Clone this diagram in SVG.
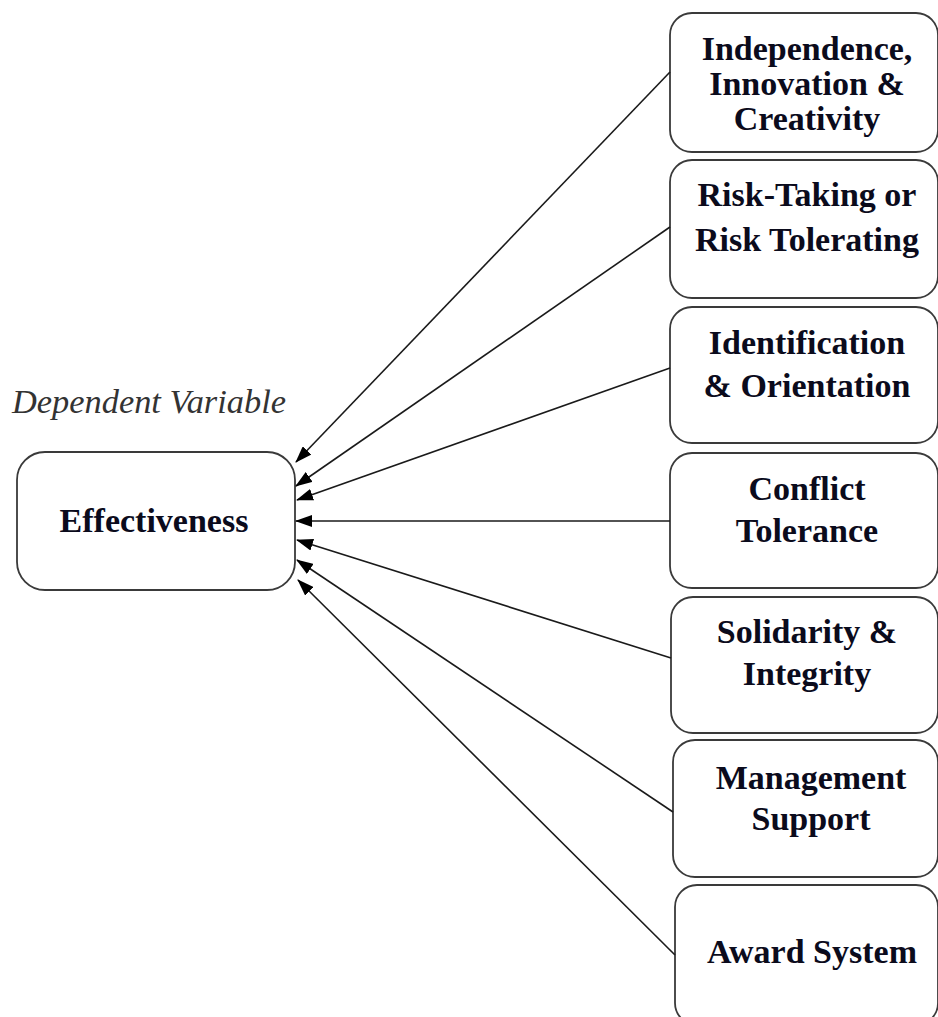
<svg xmlns="http://www.w3.org/2000/svg" width="938" height="1017" viewBox="0 0 938 1017">
<style>
.box{fill:#fff;stroke:#3a3a3a;stroke-width:1.8}
.lbl{font-family:"Liberation Serif","Times New Roman",serif;font-weight:bold;font-size:34px;fill:#0b0b1c;text-anchor:middle}
.dv{font-family:"Liberation Serif","Times New Roman",serif;font-style:italic;font-size:34px;fill:#333}
.con{stroke:#1a1a1a;stroke-width:1.6;fill:none;marker-end:url(#ah)}
</style>
<defs>
<marker id="ah" markerWidth="17" markerHeight="12" refX="16" refY="6" orient="auto" markerUnits="userSpaceOnUse">
<path d="M0,0 L17,6 L0,12 Z" fill="#000"/>
</marker>
</defs>
<rect width="938" height="1017" fill="#fff"/>
<text class="dv" x="12" y="413" textLength="274" lengthAdjust="spacingAndGlyphs">Dependent Variable</text>
<g id="effectiveness">
<rect class="box" x="17" y="452" width="278" height="138" rx="28"/>
<text class="lbl" x="154" y="532">Effectiveness</text>
</g>
<g id="independence">
<rect class="box" x="670" y="13" width="268" height="139" rx="22"/>
<text class="lbl" x="807" y="60">Independence,</text>
<text class="lbl" x="807" y="95">Innovation &amp;</text>
<text class="lbl" x="807" y="130">Creativity</text>
</g>
<g id="risk">
<rect class="box" x="670" y="160" width="268" height="138" rx="22"/>
<text class="lbl" x="807" y="206">Risk-Taking or</text>
<text class="lbl" x="807" y="251">Risk Tolerating</text>
</g>
<g id="identification">
<rect class="box" x="670" y="307" width="268" height="136" rx="22"/>
<text class="lbl" x="807" y="354">Identification</text>
<text class="lbl" x="807" y="397">&amp; Orientation</text>
</g>
<g id="conflict">
<rect class="box" x="670" y="453" width="268" height="135" rx="22"/>
<text class="lbl" x="807" y="500">Conflict</text>
<text class="lbl" x="807" y="542">Tolerance</text>
</g>
<g id="solidarity">
<rect class="box" x="671" y="597" width="267" height="136" rx="22"/>
<text class="lbl" x="807" y="643">Solidarity &amp;</text>
<text class="lbl" x="807" y="685">Integrity</text>
</g>
<g id="management">
<rect class="box" x="673" y="740" width="265" height="137" rx="22"/>
<text class="lbl" x="811" y="789">Management</text>
<text class="lbl" x="811" y="830">Support</text>
</g>
<g id="award">
<rect class="box" x="675" y="885" width="263" height="140" rx="22"/>
<text class="lbl" x="812" y="963">Award System</text>
</g>
<g id="connectors">
<line class="con" x1="670" y1="72" x2="296" y2="462"/>
<line class="con" x1="670" y1="227" x2="296" y2="486"/>
<line class="con" x1="670" y1="368" x2="297" y2="500"/>
<line class="con" x1="670" y1="521" x2="296" y2="521"/>
<line class="con" x1="671" y1="658" x2="297" y2="540"/>
<line class="con" x1="673" y1="812" x2="297" y2="560"/>
<line class="con" x1="675" y1="955" x2="298" y2="580"/>
</g>
</svg>
